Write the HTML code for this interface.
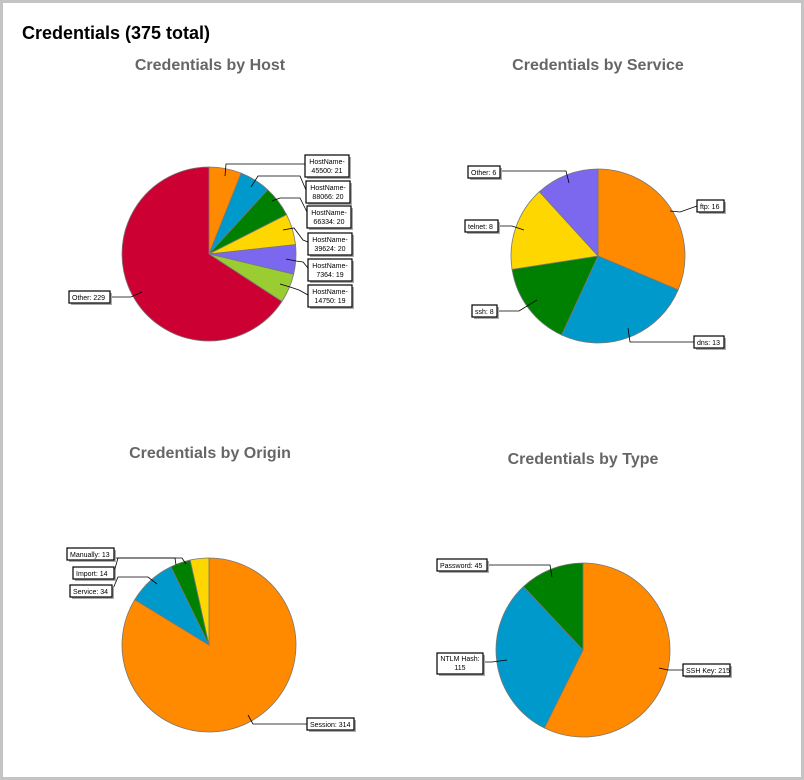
<!DOCTYPE html>
<html><head><meta charset="utf-8"><style>
html,body{margin:0;padding:0;background:#fff;}
#wrap{position:relative;width:798px;height:774px;border:3px solid #c4c4c4;}
svg{position:absolute;left:-3px;top:-3px;}
</style></head><body><div id="wrap">
<svg id="s" width="804" height="780" viewBox="0 0 804 780" font-family="Liberation Sans, sans-serif">
<text x="22" y="39" font-size="18" font-weight="bold" fill="#000">Credentials (375 total)</text>
<g font-size="16" font-weight="bold" fill="#666" text-anchor="middle">
<text x="210" y="70">Credentials by Host</text>
<text x="598" y="70">Credentials by Service</text>
<text x="210" y="458">Credentials by Origin</text>
<text x="583" y="464">Credentials by Type</text>
</g>
<g id="pies"></g>
<g id="leaders" fill="none" stroke="#000" stroke-width="0.8"></g>
<g id="boxes" font-size="7" fill="#000">
<rect x="307" y="157" width="44" height="22" fill="#aaa"/><rect x="305" y="155" width="44" height="22" fill="#fff" stroke="#000" stroke-width="1.2"/>
<text x="327" y="164" text-anchor="middle">HostName-</text><text x="327" y="173" text-anchor="middle">45500: 21</text>
<rect x="308" y="183" width="44" height="22" fill="#aaa"/><rect x="306" y="181" width="44" height="22" fill="#fff" stroke="#000" stroke-width="1.2"/>
<text x="328" y="190" text-anchor="middle">HostName-</text><text x="328" y="199" text-anchor="middle">88066: 20</text>
<rect x="309" y="208" width="44" height="22" fill="#aaa"/><rect x="307" y="206" width="44" height="22" fill="#fff" stroke="#000" stroke-width="1.2"/>
<text x="329" y="215" text-anchor="middle">HostName-</text><text x="329" y="224" text-anchor="middle">66334: 20</text>
<rect x="310" y="235" width="44" height="22" fill="#aaa"/><rect x="308" y="233" width="44" height="22" fill="#fff" stroke="#000" stroke-width="1.2"/>
<text x="330" y="242" text-anchor="middle">HostName-</text><text x="330" y="251" text-anchor="middle">39624: 20</text>
<rect x="310" y="261" width="44" height="22" fill="#aaa"/><rect x="308" y="259" width="44" height="22" fill="#fff" stroke="#000" stroke-width="1.2"/>
<text x="330" y="268" text-anchor="middle">HostName-</text><text x="330" y="277" text-anchor="middle">7364: 19</text>
<rect x="310" y="287" width="44" height="22" fill="#aaa"/><rect x="308" y="285" width="44" height="22" fill="#fff" stroke="#000" stroke-width="1.2"/>
<text x="330" y="294" text-anchor="middle">HostName-</text><text x="330" y="303" text-anchor="middle">14750: 19</text>
<rect x="71" y="293" width="41" height="12" fill="#aaa"/><rect x="69" y="291" width="41" height="12" fill="#fff" stroke="#000" stroke-width="1.2"/>
<text x="72" y="300">Other: 229</text>

<rect x="470" y="168" width="32" height="12" fill="#aaa"/><rect x="468" y="166" width="32" height="12" fill="#fff" stroke="#000" stroke-width="1.2"/><text x="471" y="175">Other: 6</text>
<rect x="467" y="222" width="33" height="12" fill="#aaa"/><rect x="465" y="220" width="33" height="12" fill="#fff" stroke="#000" stroke-width="1.2"/><text x="468" y="229">telnet: 8</text>
<rect x="474" y="307" width="25" height="12" fill="#aaa"/><rect x="472" y="305" width="25" height="12" fill="#fff" stroke="#000" stroke-width="1.2"/><text x="475" y="314">ssh: 8</text>
<rect x="699" y="202" width="27" height="12" fill="#aaa"/><rect x="697" y="200" width="27" height="12" fill="#fff" stroke="#000" stroke-width="1.2"/><text x="700" y="209">ftp: 16</text>
<rect x="696" y="338" width="30" height="12" fill="#aaa"/><rect x="694" y="336" width="30" height="12" fill="#fff" stroke="#000" stroke-width="1.2"/><text x="697" y="345">dns: 13</text>

<rect x="69" y="550" width="47" height="12" fill="#aaa"/><rect x="67" y="548" width="47" height="12" fill="#fff" stroke="#000" stroke-width="1.2"/><text x="70" y="557">Manually: 13</text>
<rect x="75" y="569" width="41" height="12" fill="#aaa"/><rect x="73" y="567" width="41" height="12" fill="#fff" stroke="#000" stroke-width="1.2"/><text x="76" y="576">Import: 14</text>
<rect x="72" y="587" width="42" height="12" fill="#aaa"/><rect x="70" y="585" width="42" height="12" fill="#fff" stroke="#000" stroke-width="1.2"/><text x="73" y="594">Service: 34</text>
<rect x="309" y="720" width="47" height="12" fill="#aaa"/><rect x="307" y="718" width="47" height="12" fill="#fff" stroke="#000" stroke-width="1.2"/><text x="310" y="727">Session: 314</text>

<rect x="439" y="561" width="50" height="12" fill="#aaa"/><rect x="437" y="559" width="50" height="12" fill="#fff" stroke="#000" stroke-width="1.2"/><text x="440" y="568">Password: 45</text>
<rect x="439" y="655" width="46" height="21" fill="#aaa"/><rect x="437" y="653" width="46" height="21" fill="#fff" stroke="#000" stroke-width="1.2"/><text x="460" y="661" text-anchor="middle">NTLM Hash:</text><text x="460" y="670" text-anchor="middle">115</text>
<rect x="685" y="666" width="47" height="12" fill="#aaa"/><rect x="683" y="664" width="47" height="12" fill="#fff" stroke="#000" stroke-width="1.2"/><text x="686" y="673">SSH Key: 215</text>
</g>
</svg></div>
<script>
var NS="http://www.w3.org/2000/svg";
function pie(cx,cy,r,vals,cols){
 var g=document.getElementById("pies"),t=vals.reduce((a,b)=>a+b,0),a=0;
 vals.forEach(function(v,i){
  var a1=a+v/t*2*Math.PI;
  var x0=cx+r*Math.sin(a),y0=cy-r*Math.cos(a),x1=cx+r*Math.sin(a1),y1=cy-r*Math.cos(a1);
  var p=document.createElementNS(NS,"path");
  p.setAttribute("d","M"+cx+","+cy+"L"+x0+","+y0+"A"+r+","+r+" 0 "+((a1-a)>Math.PI?1:0)+" 1 "+x1+","+y1+"Z");
  p.setAttribute("fill",cols[i]);p.setAttribute("stroke","#777");p.setAttribute("stroke-width","0.8");
  g.appendChild(p);a=a1;});
}
pie(209,254,87,[21,20,20,20,19,19,229],["#ff8a00","#0099cc","#008000","#ffd700","#7b68ee","#9acd32","#cc0033"]);
pie(598,256,87,[16,13,8,8,6],["#ff8a00","#0099cc","#008000","#ffd700","#7b68ee"]);
pie(209,645,87,[314,34,14,13],["#ff8a00","#0099cc","#008000","#ffd700"]);
pie(583,650,87,[215,115,45],["#ff8a00","#0099cc","#008000"]);
var L=[
"M225,176L226,164L305,164","M251,187L258,176L300,176L306,190","M272,201L280,198L300,198L307,212",
"M283,230L294,228L303,240L308,242","M286,259L296,261L303,262L308,268","M280,284L290,287L299,290L308,295",
"M142,292L131,297L110,297",
"M569,183L566,171L500,171","M524,230L512,226L498,226","M537,300L519,311L497,311",
"M670,211L680,212L697,206","M628,328L630,342L694,342",
"M186,564L182,558L116,558","M176,565L175,558L118,558L114,572","M157,584L148,577L118,577L112,591",
"M248,715L253,724L307,724",
"M552,577L550,565L487,565","M507,660L492,662L483,662","M659,668L668,670L683,670"];
var lg=document.getElementById("leaders");
L.forEach(function(d){var p=document.createElementNS(NS,"path");p.setAttribute("d",d);lg.appendChild(p);});
</script>
</body></html>
